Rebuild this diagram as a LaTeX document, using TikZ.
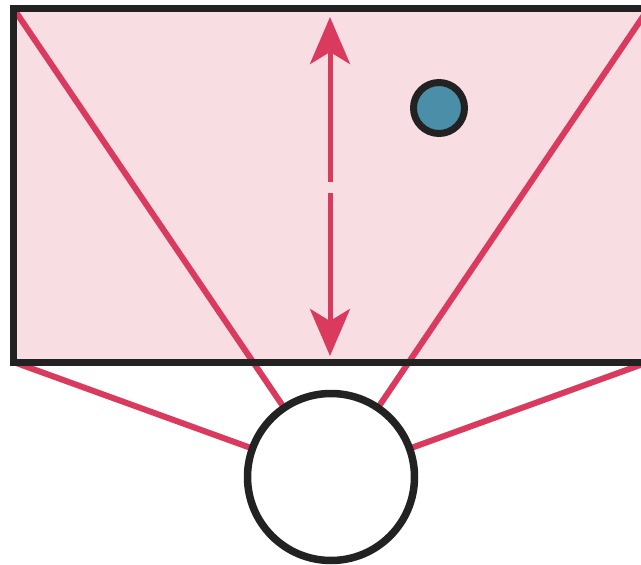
\documentclass[tikz,border=0pt]{standalone}
\usetikzlibrary{arrows.meta}
\definecolor{pinkfill}{HTML}{F8DDE3}
\definecolor{rayred}{HTML}{D93A5E}
\definecolor{inkblack}{HTML}{222222}
\definecolor{dotblue}{HTML}{4A8EA8}
\tikzset{
  ray/.style={draw=rayred, line width=6pt},
  frame/.style={draw=inkblack, line width=7pt},
  arrowseg/.style={draw=rayred, line width=5pt, -{Stealth[length=47pt,width=40pt,inset=12pt]}},
}
\begin{document}
\begin{tikzpicture}[x=1pt,y=-1pt]
\useasboundingbox (0,0) rectangle (641,565);
\coordinate (tl) at (13.5,8.5);
\coordinate (tr) at (648.5,8.5);
\coordinate (bl) at (13.5,362);
\coordinate (br) at (648.5,362);
\fill[pinkfill] (tl) rectangle (br);
\node[circle, minimum size=167pt, inner sep=0pt, outer sep=0pt] (eye) at (331,477) {};
\draw[ray] (tl) -- (eye.center);
\draw[ray] (tr) -- (eye.center);
\draw[ray] (bl) -- (eye.center);
\draw[ray] (br) -- (eye.center);
\draw[frame] (tl) rectangle (br);
\node[circle, draw=inkblack, fill=white, line width=7.5pt, minimum size=167pt, inner sep=0pt] at (eye.center) {};
\coordinate (atop) at (330,17);
\coordinate (amidu) at (330,182);
\coordinate (amidl) at (330,193);
\coordinate (abot) at (330,356);
\draw[arrowseg] (amidu) -- (atop);
\draw[arrowseg] (amidl) -- (abot);
\node[circle, draw=inkblack, fill=dotblue, line width=7pt, minimum size=51pt, inner sep=0pt] (dot) at (439,108) {};
\end{tikzpicture}
\end{document}
